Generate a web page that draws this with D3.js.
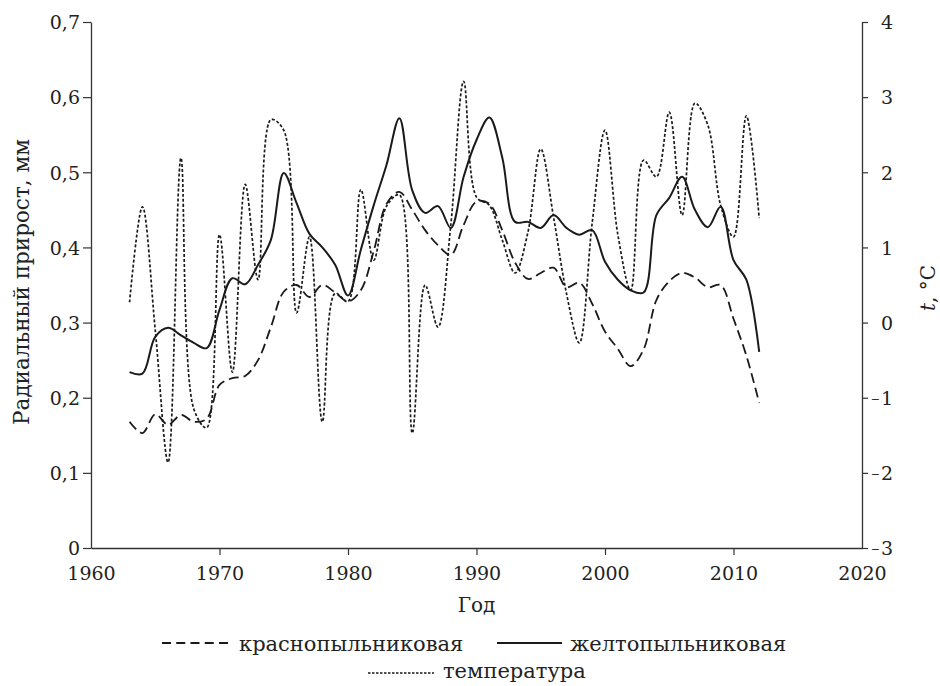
<!DOCTYPE html>
<html><head><meta charset="utf-8">
<script src="https://cdn.jsdelivr.net/npm/d3@7"></script>
<style>
html,body{margin:0;padding:0;background:#fff;}
svg{display:block;}
text{font-family:"DejaVu Serif",serif;fill:#222;}
</style></head>
<body>
<svg id="c" width="940" height="686"></svg>
<script>
const years = d3.range(1963, 2013);
const krasno = [0.168,0.153,0.178,0.164,0.177,0.168,0.172,0.217,0.226,0.229,
  0.25,0.294,0.341,0.35,0.334,0.35,0.34,0.328,0.343,0.395,
  0.458,0.474,0.45,0.423,0.403,0.39,0.43,0.461,0.458,0.423,
  0.38,0.358,0.366,0.373,0.347,0.353,0.325,0.288,0.265,0.242,
  0.264,0.33,0.355,0.366,0.36,0.347,0.35,0.305,0.256,0.193];
const zhelto = [0.234,0.232,0.281,0.293,0.283,0.273,0.266,0.317,0.359,0.351,
  0.377,0.41,0.499,0.459,0.418,0.40,0.377,0.336,0.397,0.456,
  0.51,0.572,0.476,0.446,0.455,0.426,0.494,0.543,0.573,0.52,
  0.434,0.434,0.426,0.443,0.426,0.417,0.423,0.381,0.357,0.343,
  0.34,0.443,0.466,0.494,0.45,0.427,0.454,0.383,0.357,0.261];
const temperature = [0.27,1.54,-0.1,-1.86,2.19,-1.15,-1.40,1.17,-0.66,1.84,
  0.57,2.70,2.56,0.13,1.14,-1.32,0.39,0.28,1.77,0.83,
  1.55,1.70,-1.47,0.50,-0.06,1.30,3.21,1.67,1.56,1.10,
  0.66,1.20,2.31,1.40,0.39,-0.27,1.32,2.56,1.17,0.43,
  2.16,1.94,2.80,1.43,2.92,2.63,1.56,1.14,2.75,1.39];
const xTicks = [1960,1970,1980,1990,2000,2010,2020];
const yLeftTicks = [0,0.1,0.2,0.3,0.4,0.5,0.6,0.7];
const yRightTicks = [-3,-2,-1,0,1,2,3,4];
const seriesNames = ["краснопыльниковая","желтопыльниковая","температура"];
const xTitle = "Год", yLeftTitle = "Радиальный прирост, мм";

const svg = d3.select("#c");
const L = 91, R = 862, T = 22, B = 548;
const x = d3.scaleLinear().domain([1960,2020]).range([L,R]);
const yL = d3.scaleLinear().domain([0,0.7]).range([B,T]);
const yR = d3.scaleLinear().domain([-3,4]).range([B,T]);
const f1 = d => d.toFixed(1).replace(".", ",");
const fs = 19;
const axisColor = "#333";

// bottom axis
const gx = svg.append("g").attr("transform",`translate(0,${B})`)
  .call(d3.axisBottom(x).tickValues(xTicks).tickSize(7).tickSizeOuter(0).tickFormat(d3.format("d")));
gx.selectAll("line").attr("stroke",axisColor).attr("stroke-width",1.2)
  .filter(d => d===1960 || d===2020).remove();
gx.select(".domain").attr("stroke",axisColor).attr("stroke-width",1.3);
gx.selectAll("text").attr("y",32).attr("dy",0).style("font-size",fs+"px").style("font-family","DejaVu Serif");

// left axis
const gl = svg.append("g").attr("transform",`translate(${L},0)`)
  .call(d3.axisLeft(yL).tickValues(yLeftTicks).tickSize(8).tickPadding(3).tickSizeOuter(0)
    .tickFormat(d => d===0 ? "0" : f1(d)));
gl.selectAll("line").attr("stroke",axisColor).attr("stroke-width",1.2);
gl.select(".domain").attr("stroke",axisColor).attr("stroke-width",1.3);
gl.selectAll("text").style("font-size",fs+"px").style("font-family","DejaVu Serif").attr("dy","0.36em");

// right axis
const gr = svg.append("g").attr("transform",`translate(${R},0)`)
  .call(d3.axisRight(yR).tickValues(yRightTicks).tickSize(6).tickSizeOuter(0).tickFormat(""));
gr.selectAll("line").attr("stroke",axisColor).attr("stroke-width",1.2);
gr.select(".domain").attr("stroke",axisColor).attr("stroke-width",1.3);
gr.selectAll(".tick text").each(function(d){
  const t = d3.select(this).attr("x",31).attr("y",6.8).attr("dy",null).attr("text-anchor","end")
    .style("font-size",fs+"px").style("font-family","DejaVu Serif").text(null);
  if (d < 0) {
    t.append("tspan").style("font-size","11px").attr("dy",-2.4).text("\u2212");
    t.append("tspan").attr("dx",1).attr("dy",2.4).text(String(Math.abs(d)));
  } else {
    t.text(String(d));
  }
});

// titles
svg.append("text").attr("x",(L+R)/2).attr("y",612).attr("text-anchor","middle")
  .style("font-size","20px").text(xTitle);
svg.append("text").attr("transform","translate(29,282) rotate(-90)").attr("text-anchor","middle")
  .style("font-size","21.5px").text(yLeftTitle);
const rt = svg.append("text").attr("transform","translate(935,288) rotate(-90)").attr("text-anchor","middle")
  .style("font-size","20px");
rt.append("tspan").style("font-style","italic").text("t");
rt.append("tspan").text(", \u00B0C");

// lines
const curve = d3.curveCatmullRom.alpha(0.5);
const lineL = d3.line().x((d,i)=>x(years[i])).y(d=>yL(d)).curve(curve);
const lineR = d3.line().x((d,i)=>x(years[i])).y(d=>yR(d)).curve(curve);
const styles = [
  {dash:"10,5", w:1.8, leg:"9,5.25"},
  {dash:null, w:2, leg:null},
  {dash:"3,2", w:1.7, leg:"2.5,1.5"}
];
const g = svg.append("g").attr("fill","none").attr("stroke","#1a1a1a");
g.append("path").datum(temperature).attr("d",lineR).attr("stroke-width",styles[2].w).attr("stroke-dasharray",styles[2].dash);
g.append("path").datum(krasno).attr("d",lineL).attr("stroke-width",styles[0].w).attr("stroke-dasharray",styles[0].dash);
g.append("path").datum(zhelto).attr("d",lineL).attr("stroke-width",styles[1].w);

// legend
const leg = [
  {x0:162,x1:228,y:643,tx:239,ty:651,i:0},
  {x0:497,x1:562,y:643,tx:570,ty:651,i:1},
  {x0:368,x1:434,y:673,tx:443,ty:678,i:2}
];
leg.forEach(o => {
  const s = styles[o.i];
  svg.append("line").attr("x1",o.x0).attr("x2",o.x1).attr("y1",o.y).attr("y2",o.y)
    .attr("stroke","#1a1a1a").attr("stroke-width",s.w).attr("stroke-dasharray",s.leg);
  svg.append("text").attr("x",o.tx).attr("y",o.ty).style("font-size","21px").text(seriesNames[o.i]);
});
</script>
</body></html>
